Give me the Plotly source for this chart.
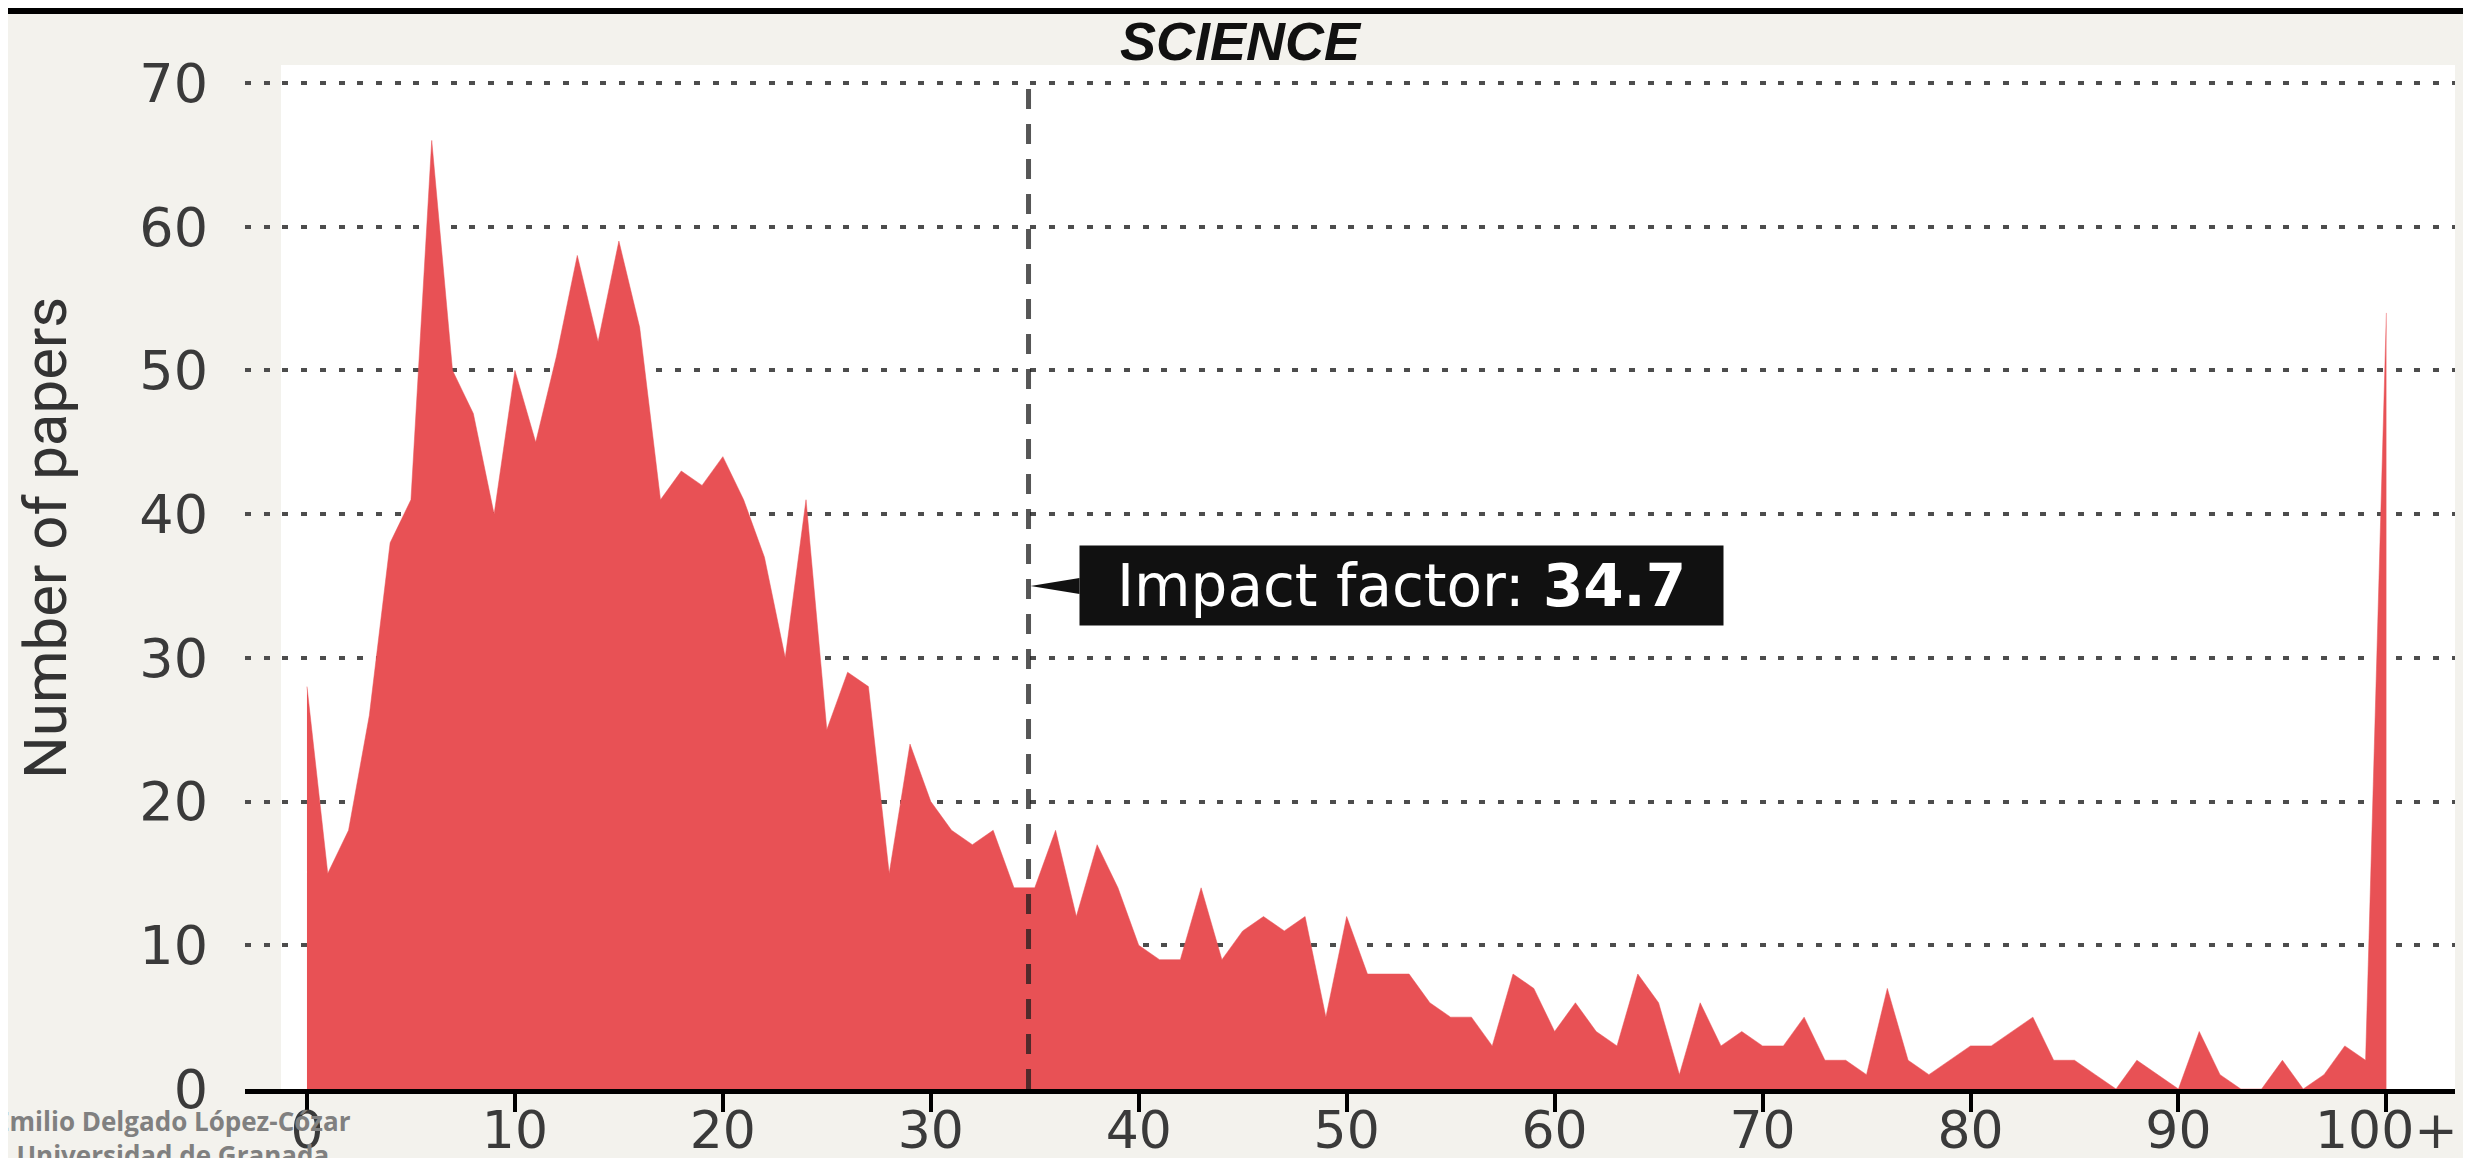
import plotly.graph_objects as go

# ---------------- data ----------------
impact_factor_bins = list(range(0, 101))          # 0 .. 99, and 100 = "100+"
papers = [28, 15, 18, 26, 38, 41, 66, 50, 47, 40,
          50, 45, 51, 58, 52, 59, 53, 41, 43, 42,
          44, 41, 37, 30, 41, 25, 29, 28, 15, 24,
          20, 18, 17, 18, 14, 14, 18, 12, 17, 14,
          10, 9, 9, 14, 9, 11, 12, 11, 12, 5,
          12, 8, 8, 8, 6, 5, 5, 3, 8, 7,
          4, 6, 4, 3, 8, 6, 1, 6, 3, 4,
          3, 3, 5, 2, 2, 1, 7, 2, 1, 2,
          3, 3, 4, 5, 2, 2, 1, 0, 2, 1,
          0, 4, 1, 0, 0, 2, 0, 1, 3, 2,
          54]
x_tick_vals = [0, 10, 20, 30, 40, 50, 60, 70, 80, 90, 100]
x_tick_text = ["0", "10", "20", "30", "40", "50", "60", "70", "80", "90", "100+"]
y_tick_vals = [0, 10, 20, 30, 40, 50, 60, 70]
journal_impact_factor = 34.7
label_y = 35
title_text = "SCIENCE"
y_title = "Number of papers"
credit_text = "Emilio Delgado López-Cózar<br>Universidad de Granada"

# ---------------- style ----------------
W, H = 2471, 1158
L, R, T, B = 237, 24, 57, 77
plot_w = W - L - R
plot_h = H - T - B
fill_color = "rgb(232,81,85)"
bg_color = "#f3f2ed"
x_tick_font = dict(family="DejaVu Sans", size=52, color="#3a3a3a")
y_tick_font = dict(family="DejaVu Sans", size=54, color="#3a3a3a")


def px_x(px):
    return (px - L) / plot_w


def px_y(py):
    return (T + plot_h - py) / plot_h


fig = go.Figure()

fig.add_trace(go.Scatter(
    x=impact_factor_bins, y=papers,
    mode="lines", fill="tozeroy",
    line=dict(color=fill_color, width=0.5),
    fillcolor=fill_color,
    hoverinfo="x+y", showlegend=False,
))

# white plotting panel (under the gridlines)
fig.add_shape(type="rect", xref="x", yref="paper",
              x0=-1.25, x1=110, y0=0, y1=1,
              fillcolor="white", line=dict(width=0), layer="below")

# impact factor dashed line
fig.add_shape(type="line", xref="x", yref="y",
              x0=journal_impact_factor, x1=journal_impact_factor, y0=0, y1=70,
              line=dict(color="rgba(30,30,30,0.75)", width=5, dash="20px,15px"),
              layer="above")

# pointer of the label box
fig.add_shape(type="path", xref="x", yref="y",
              xsizemode="pixel", ysizemode="pixel",
              xanchor=journal_impact_factor, yanchor=label_y,
              path="M2,0 L51,8 L51,-8 Z",
              fillcolor="#111111", line=dict(width=0), layer="above")

fig.add_annotation(
    x=journal_impact_factor, y=label_y, xref="x", yref="y",
    xanchor="left", yanchor="middle", xshift=50,
    text="Impact factor: <b>%s</b>" % journal_impact_factor,
    showarrow=False, bgcolor="#111111", borderpad=0,
    width=643, height=79, align="center",
    font=dict(family="DejaVu Sans", size=58, color="white"),
)

# y axis title
fig.add_annotation(
    x=px_x(37), y=px_y(530), xref="paper", yref="paper",
    xanchor="center", yanchor="middle", textangle=-90,
    text=y_title, showarrow=False,
    font=dict(family="Roboto", size=60, color="#333333"),
)

# credit text bottom-left
fig.add_annotation(
    x=px_x(165), y=px_y(1093),
    xref="paper", yref="paper", xanchor="center", yanchor="top",
    text="<b>" + credit_text + "</b>", showarrow=False, align="center",
    font=dict(family="Open Sans", size=26, color="#808080"),
)

# thin black strip at the very top of the picture
fig.add_shape(type="rect", xref="paper", yref="paper",
              x0=px_x(0), x1=px_x(W), y0=px_y(6), y1=px_y(0),
              fillcolor="black", line=dict(width=0), layer="above")

fig.update_layout(
    width=W, height=H,
    margin=dict(l=L, r=R, t=T, b=B, autoexpand=False),
    paper_bgcolor=bg_color, plot_bgcolor="rgba(0,0,0,0)",
    title=dict(text="<b><i>" + title_text + "</i></b>", x=1232 / W, xref="container",
               xanchor="center", y=1 - 33 / H, yref="container", yanchor="middle",
               font=dict(family="Liberation Sans", size=54, color="#111111")),
    showlegend=False,
)

fig.update_xaxes(
    range=[-2.98, 103.3], tickvals=x_tick_vals, ticktext=x_tick_text,
    showgrid=False, zeroline=False,
    showline=True, linecolor="black", linewidth=5,
    ticks="outside", ticklen=18, tickwidth=4, tickcolor="black",
    tickfont=x_tick_font, ticklabelstandoff=-26,
)
fig.update_yaxes(
    range=[0, 71.25], tickvals=y_tick_vals,
    showgrid=True, gridcolor="#4d4d4d", gridwidth=4, griddash="6px,12.7px",
    zeroline=False, showline=False, ticks="",
    tickfont=y_tick_font, ticklabelstandoff=36,
)

fig.write_html("out.html")
